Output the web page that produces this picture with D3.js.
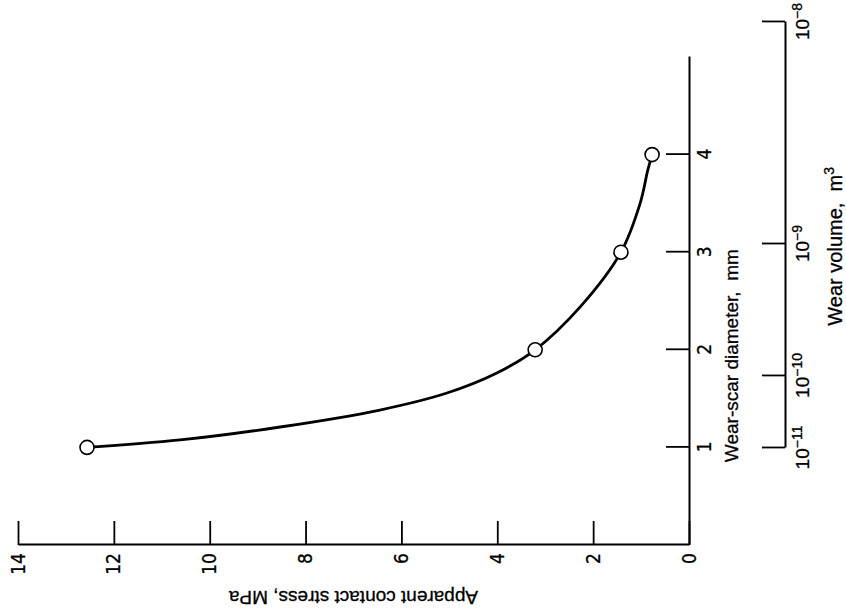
<!DOCTYPE html>
<html>
<head>
<meta charset="utf-8">
<script src="https://cdn.jsdelivr.net/npm/d3@7"></script>
<style>
  body { margin: 0; background: #fff; }
  .tick text { font-family: "Liberation Sans Narrow", "DejaVu Sans Condensed", sans-serif; font-size: 19px; fill: #000; stroke: #000; stroke-width: 0.3px; }
  .title { font-family: "Liberation Sans", Arial, sans-serif; font-size: 19px; fill: #000; stroke: #000; stroke-width: 0.3px; }
</style>
</head>
<body>
<div id="chart-container"></div>
<script>
// --- 1. DATA ---
const markerDiameter = [1, 2, 3, 4];
const markerStress = [12.56, 3.21, 1.42, 0.77];

// points (diameter mm, stress MPa)
const curveDiameter = [1.0, 1.076, 1.209, 1.383, 1.557, 1.762, 2.0, 2.44, 3.0, 3.5, 3.84, 4.0];
const curveStress = [12.56, 10.62, 8.53, 6.45, 5.05, 4.01, 3.21, 2.27, 1.42, 1.02, 0.86, 0.77];

const stressTicks = [0, 2, 4, 6, 8, 10, 12, 14];
const diameterTicks = [1, 2, 3, 4];
const volumeExponents = [-11, -10, -9, -8];
// where each wear-volume tick sits on the diameter scale
const volumeAtDiameter = [0.994, 1.732, 3.084, 5.359];

// --- 2. SETUP ---
const totalWidth = 846;
const totalHeight = 614;

const svg = d3
  .select("#chart-container")
  .append("svg")
  .attr("width", totalWidth)
  .attr("height", totalHeight);

// the whole figure is drawn upright and then turned a quarter turn
const plotLength = 488; // diameter axis length
const plotHeight = 671; // stress axis length

const g = svg
  .append("g")
  .attr("transform", "translate(18,545) rotate(-90)");

// --- 3. SCALES ---
const x = d3.scaleLinear().domain([0, 5]).range([0, plotLength]);
const y = d3.scaleLinear().domain([0, 14]).range([plotHeight, 0]);
const xVol = d3
  .scaleLinear()
  .domain(volumeExponents)
  .range(volumeAtDiameter.map((d) => x(d)));

// --- 4. AXES ---
const stressAxis = g
  .append("g")
  .call(
    d3.axisLeft(y).tickValues(stressTicks).tickSizeInner(-24).tickSizeOuter(0).tickPadding(8)
  );

const diameterAxis = g
  .append("g")
  .attr("transform", `translate(0,${plotHeight})`)
  .call(
    d3
      .axisBottom(x)
      .tickValues(diameterTicks)
      .tickFormat(d3.format("d"))
      .tickSizeInner(-23)
      .tickSizeOuter(0)
      .tickPadding(9)
  );

const volumeAxis = g
  .append("g")
  .attr("transform", `translate(0,${plotHeight + 96})`)
  .call(
    d3.axisBottom(xVol).tickValues(volumeExponents).tickSizeInner(-23).tickSizeOuter(0).tickPadding(11).tickFormat("")
  );

// power-of-ten labels with superscripts
volumeAxis.selectAll(".tick text").each(function (d) {
  const t = d3.select(this)
    .style("font-family", "Liberation Sans, Arial, sans-serif")
    .style("font-size", "19px");
  t.append("tspan").text("10");
  t.append("tspan")
    .attr("dy", "-0.55em")
    .style("font-size", "14px")
    .text("\u2212" + Math.abs(d));
});

[stressAxis, diameterAxis, volumeAxis].forEach((a) => {
  a.select(".domain").attr("stroke", "#000").attr("stroke-width", 2);
  a.selectAll(".tick line").attr("stroke", "#000").attr("stroke-width", 1.8);
});

// axis titles
g.append("text")
  .attr("class", "title")
  .attr("transform", `translate(-46,${y(7)}) rotate(-90)`)
  .attr("text-anchor", "middle")
  .text("Apparent contact stress, MPa");

g.append("text")
  .attr("class", "title")
  .attr("x", x(1.94))
  .attr("y", plotHeight + 49)
  .attr("text-anchor", "middle")
  .attr("xml:space", "preserve")
  .text("Wear-scar diameter,  mm");

const volTitle = g
  .append("text")
  .attr("class", "title")
  .attr("x", x(3.06))
  .attr("y", plotHeight + 153)
  .attr("text-anchor", "middle")
  .attr("xml:space", "preserve")
  .style("font-size", "20px");
volTitle.append("tspan").text("Wear volume,  m");
volTitle.append("tspan").attr("dy", "-0.6em").style("font-size", "14px").text("3");

// --- 5. CURVE AND MARKERS ---
const curvePoints = curveDiameter.map((d, i) => ({ d: d, s: curveStress[i] }));

const line = d3
  .line()
  .x((p) => x(p.d))
  .y((p) => y(p.s))
  .curve(d3.curveCatmullRom.alpha(0.5));

g.append("path")
  .datum(curvePoints)
  .attr("fill", "none")
  .attr("stroke", "#000")
  .attr("stroke-width", 2.8)
  .attr("d", line);

g.selectAll("circle")
  .data(markerDiameter.map((d, i) => ({ d: d, s: markerStress[i] })))
  .enter()
  .append("circle")
  .attr("cx", (p) => x(p.d))
  .attr("cy", (p) => y(p.s))
  .attr("r", 7)
  .attr("fill", "#fff")
  .attr("stroke", "#000")
  .attr("stroke-width", 1.6);
</script>
</body>
</html>
